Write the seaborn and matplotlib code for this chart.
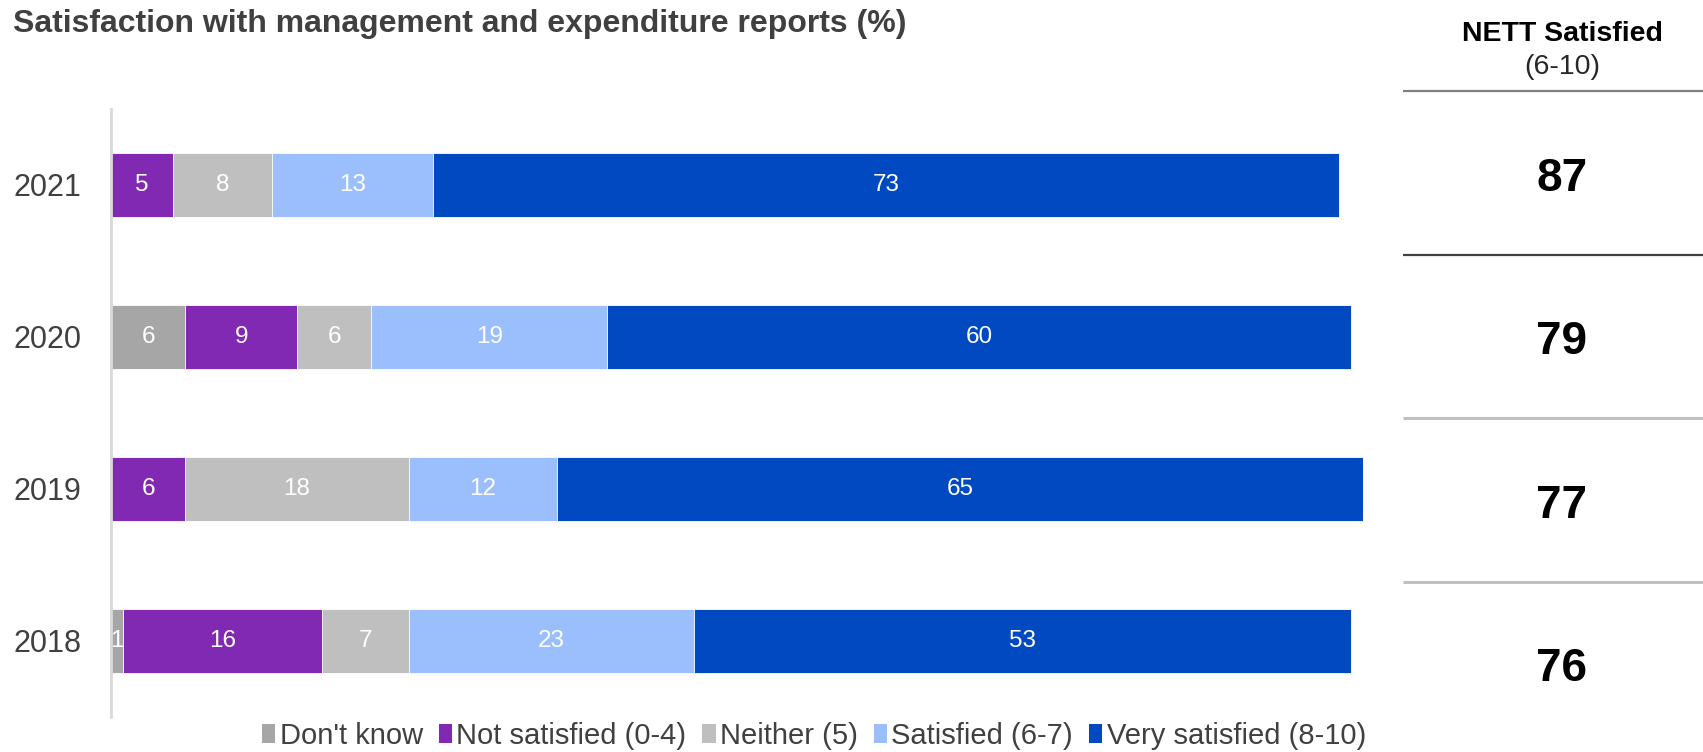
import numpy as np
import pandas as pd
import matplotlib
matplotlib.use("Agg")
import matplotlib.pyplot as plt
from matplotlib.patches import Patch
import seaborn as sns

# Survey data (percent of respondents)
years = ["2021", "2020", "2019", "2018"]
categories = ["Don't know", "Not satisfied (0-4)", "Neither (5)",
              "Satisfied (6-7)", "Very satisfied (8-10)"]
dont_know = [0, 6, 0, 1]
not_satisfied = [5, 9, 6, 16]
neither = [8, 6, 18, 7]
satisfied = [13, 19, 12, 23]
very_satisfied = [73, 60, 65, 53]
nett_satisfied = [87, 79, 77, 76]

colors = ["#a6a6a6", "#8229b4", "#bfbfbf", "#9bbffc", "#0049c1"]

sns.set_theme(style="white")
plt.rcParams["font.family"] = ["Liberation Sans", "DejaVu Sans"]

series = [dont_know, not_satisfied, neither, satisfied, very_satisfied]
values = np.array(series, dtype=float)          # shape: categories x years
cumulative = np.cumsum(values, axis=0)          # right edge of each segment
starts = cumulative - values                    # left edge of each segment

fig = plt.figure(figsize=(17.03, 7.52), dpi=100)
ax = fig.add_axes([111 / 1703, 35 / 752, 1252.4 / 1703, 608 / 752])

# Stacked bars: draw cumulative totals from the outermost segment inwards
for ci in range(len(categories) - 1, -1, -1):
    sub = pd.DataFrame({"year": years, "total": cumulative[ci]})
    sns.barplot(data=sub, x="total", y="year", order=years, color=colors[ci],
                saturation=1, width=0.42, ax=ax, orient="h",
                edgecolor="white", linewidth=0.6)

# Segment value labels
for ci in range(len(categories)):
    for yi in range(len(years)):
        v = values[ci, yi]
        if v > 0:
            ax.text(starts[ci, yi] + v / 2, yi, f"{int(v)}", ha="center",
                    va="center", color="white", fontsize=17.5, zorder=5)

ax.set_xlim(0, 101)
ax.set_ylim(3.5, -0.5)
ax.set_xlabel("")
ax.set_ylabel("")
ax.set_xticks([])
ax.tick_params(axis="y", length=0, pad=21, labelsize=22, labelcolor="#404040")
for s in ["top", "right", "bottom"]:
    ax.spines[s].set_visible(False)
ax.spines["left"].set_color("#d9d9d9")
ax.spines["left"].set_linewidth(2)

fig.text(13 / 1703, 1 - 24 / 752, "Satisfaction with management and expenditure reports (%)",
         fontsize=23, fontweight="bold", color="#404040", ha="left", va="center")

# Legend
handles = [Patch(facecolor=c, edgecolor="none") for c in colors]
fig.legend(handles, categories, loc="center", bbox_to_anchor=(814 / 1703, 1 - 736 / 752),
           ncol=5, frameon=False, fontsize=21, handlelength=0.45, handleheight=0.65,
           handletextpad=0.15, columnspacing=0.55, labelcolor="#404040",
           borderaxespad=0, borderpad=0)

# NETT table on the right
tx = fig.add_axes([1403 / 1703, 0, 300 / 1703, 1])
tx.set_xlim(0, 1)
tx.set_ylim(752, 0)
tx.axis("off")
row_h = 163.5
line_y = [91 + i * row_h for i in range(4)]
line_cols = ["#808080", "#404040", "#c0c0c0", "#c0c0c0"]
line_w = [1.6, 1.6, 2.2, 2.2]
for y, c, w in zip(line_y, line_cols, line_w):
    tx.plot([0, 1], [y, y], color=c, lw=w, solid_capstyle="butt")
tx.text(0.53, 34, "NETT Satisfied", ha="center", va="center", fontsize=20.5,
        fontweight="bold", color="black")
tx.text(0.53, 67, "(6-10)", ha="center", va="center", fontsize=20.5, color="#262626")
for i, v in enumerate(nett_satisfied):
    tx.text(0.53, line_y[0] + row_h * (i + 0.5) + 6, f"{v}", ha="center", va="center",
            fontsize=33, fontweight="bold", color="black")

fig.savefig("out.png", dpi=100)
